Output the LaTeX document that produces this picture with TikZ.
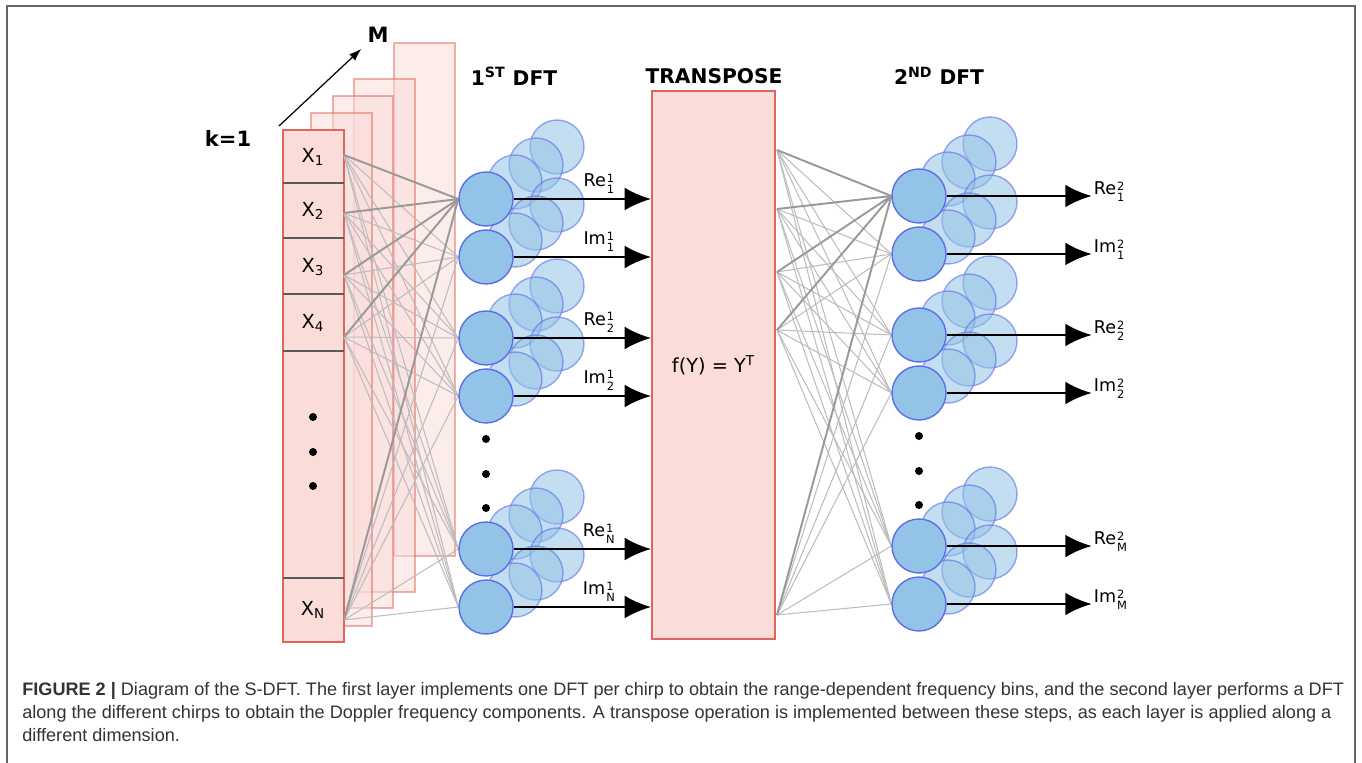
\documentclass[tikz,border=0pt]{standalone}
\usepackage{fontspec}
\setmainfont{DejaVu Sans}
\newfontfamily\capfont{Liberation Sans}
\usetikzlibrary{positioning,arrows.meta,calc}
\definecolor{sdftPink}{HTML}{FADCD9}
\definecolor{sdftRed}{HTML}{E0655A}
\definecolor{sdftBlue}{HTML}{93C3E6}
\definecolor{sdftRim}{HTML}{5B6EE6}
\definecolor{wireDark}{HTML}{999999}
\definecolor{wireLight}{HTML}{BDBDBD}
\definecolor{capText}{HTML}{333333}
\pgfdeclarelayer{frames}
\pgfdeclarelayer{wires}
\pgfsetlayers{frames,wires,main}
% component name with stacked layer / bin index
\newcommand{\compo}[3]{#1\kern0.6pt\raisebox{-0.1ex}{\fontsize{6.5}{6.2}\selectfont
  \renewcommand{\arraystretch}{0.85}\begin{tabular}[c]{@{}l@{}}#2\\#3\end{tabular}}}
\tikzset{
  chirp/.style={draw=sdftRed, fill=sdftPink, line width=0.8pt},
  chirpBack/.style={draw=sdftRed, draw opacity=0.5, fill=sdftPink, fill opacity=0.55, line width=0.8pt},
  cellLine/.style={draw=black!65, line width=0.8pt},
  cellLabel/.style={font=\fontsize{11}{13}\selectfont, inner sep=0pt},
  neuron/.style={circle, draw=sdftRim, fill=sdftBlue, line width=0.8pt, minimum size=1.08cm, inner sep=0pt},
  ghost/.style={neuron, fill opacity=0.55, draw opacity=0.6},
  wire/.style={draw=wireLight, line width=0.6pt},
  wireMain/.style={draw=wireDark, line width=1.1pt},
  outArrow/.style={-{Latex[length=15pt,width=13pt]}, line width=1.4pt},
  outLabel/.style={font=\fontsize{10}{12}\selectfont, inner sep=1pt},
  layerTitle/.style={font=\bfseries\fontsize{11.5}{13}\selectfont},
  bigDot/.style={fill=black}
}

\begin{document}
\begin{tikzpicture}[x=0.02cm, y=-0.02cm]
  \useasboundingbox (0,0) rectangle (1362,763);
  \draw[black!60, line width=1.1pt] (7,763) -- (7,6) -- (1355,6) -- (1355,763);

  % stack of chirps, back to front
  \begin{pgfonlayer}{frames}
    \draw[chirpBack] (394,43) rectangle (455,556);
    \draw[chirpBack] (354,79) rectangle (415,592);
    \draw[chirpBack] (333,96) rectangle (393,608);
    \draw[chirpBack] (311,113) rectangle (372,626);
    \draw[chirp] (283,130) rectangle (344,642);
    \foreach \y in {183,238,294,351,578}
      \draw[cellLine] (283,\y) -- (344,\y);
  \end{pgfonlayer}

  \node[cellLabel] (x1) at (313,157) {X\textsubscript{1}};
  \node[cellLabel] (x2) at (313,211) {X\textsubscript{2}};
  \node[cellLabel] (x3) at (313,267) {X\textsubscript{3}};
  \node[cellLabel] (x4) at (313,323) {X\textsubscript{4}};
  \node[cellLabel] (xn) at (313,610) {X\textsubscript{N}};
  \foreach \y in {417,452,486}
    \fill[bigDot] (313,\y) circle (4);

  \node[font=\bfseries\fontsize{12}{14}\selectfont] (k1) at (228,138) {k=1};
  \node[font=\bfseries\fontsize{12}{14}\selectfont] (M) at (378,35) {M};
  \coordinate (stackTip) at (279,126);
  \draw[-{Latex[length=7pt,width=5pt]}, line width=0.7pt] (stackTip) -- (M.south west);

  % layer titles
  \node[layerTitle] (dft1) at (514,76) {1\textsuperscript{ST} DFT};
  \node[layerTitle] (tpose) at (714,76) {TRANSPOSE};
  \node[layerTitle] (dft2) at (939,76) {2\textsuperscript{ND} DFT};

  % transpose block
  \node[draw=sdftRed, fill=sdftPink, line width=1.1pt, minimum width=2.46cm, minimum height=10.96cm,
        font=\fontsize{11}{13}\selectfont] (transpose) at (713.5,365) {f(Y) = Y\textsuperscript{T}};

  % ghost copies behind each neuron
  \foreach \n/\y in {1/199,2/257,3/338,4/396,5/549,6/607} {
    \foreach \k/\dx/\dy in {3/71/-52,2/50/-34,1/29/-17} {
      \node[ghost] (gl\n\k) at ({486+\dx},{\y+\dy}) {};
      \node[ghost] (gr\n\k) at ({919+\dx},{\y-3+\dy}) {};
    }
  }

  % first and second DFT neurons
  \foreach \n/\y in {1/199,2/257,3/338,4/396,5/549,6/607} {
    \node[neuron] (l\n) at (486,\y) {};
    \node[neuron] (r\n) at (919,\y-3) {};
  }
  \foreach \y in {439,474,508} {
    \fill[bigDot] (486,\y) circle (4);
    \fill[bigDot] (919,\y-3) circle (4);
  }

  % inputs into the first layer, outputs of the transpose
  \foreach \i/\y in {1/155,2/213,3/275,4/337,5/620}
    \coordinate (in\i) at (344,\y);
  \foreach \i/\y in {1/150,2/209,3/272,4/330,5/615}
    \coordinate (tp\i) at (777,\y);

  \begin{pgfonlayer}{wires}
    \foreach \i in {1,...,5} {
      \foreach \j in {2,...,6} {
        \draw[wire] (in\i) -- (l\j.west);
        \draw[wire] (tp\i) -- (r\j.west);
      }
    }
    \foreach \i in {1,...,5} {
      \draw[wireMain] (in\i) -- (l1.west);
      \draw[wireMain] (tp\i) -- (r1.west);
    }
  \end{pgfonlayer}

  % first layer outputs
  \foreach \n/\lab in {1/{\compo{Re}{1}{1}},2/{\compo{Im}{1}{1}},3/{\compo{Re}{1}{2}},
                       4/{\compo{Im}{1}{2}},5/{\compo{Re}{1}{N}},6/{\compo{Im}{1}{N}}}
    \draw[outArrow] (l\n.east) -- (l\n.east -| transpose.west)
      node[pos=0.62, above, outLabel] (ol\n) {\lab};

  % second layer outputs
  \foreach \n/\lab in {1/{\compo{Re}{2}{1}},2/{\compo{Im}{2}{1}},3/{\compo{Re}{2}{2}},
                       4/{\compo{Im}{2}{2}},5/{\compo{Re}{2}{M}},6/{\compo{Im}{2}{M}}} {
    \node[outLabel, anchor=west] (or\n) at ($(r\n.east)+(145,-3)$) {\lab};
    \draw[outArrow] (r\n.east) -- (r\n.east -| or\n.west);
  }

  \node[anchor=north west, align=left, text=capText, inner sep=0pt,
        font=\capfont\fontsize{10.3}{13}\selectfont] (caption) at (22,682) {%
    \textbf{FIGURE 2 |} Diagram of the S-DFT. The first layer implements one DFT per chirp to obtain the range-dependent frequency bins, and the second layer performs a DFT\\
    along the different chirps to obtain the Doppler frequency components. A transpose operation is implemented between these steps, as each layer is applied along a\\
    different dimension.};
\end{tikzpicture}
\end{document}
